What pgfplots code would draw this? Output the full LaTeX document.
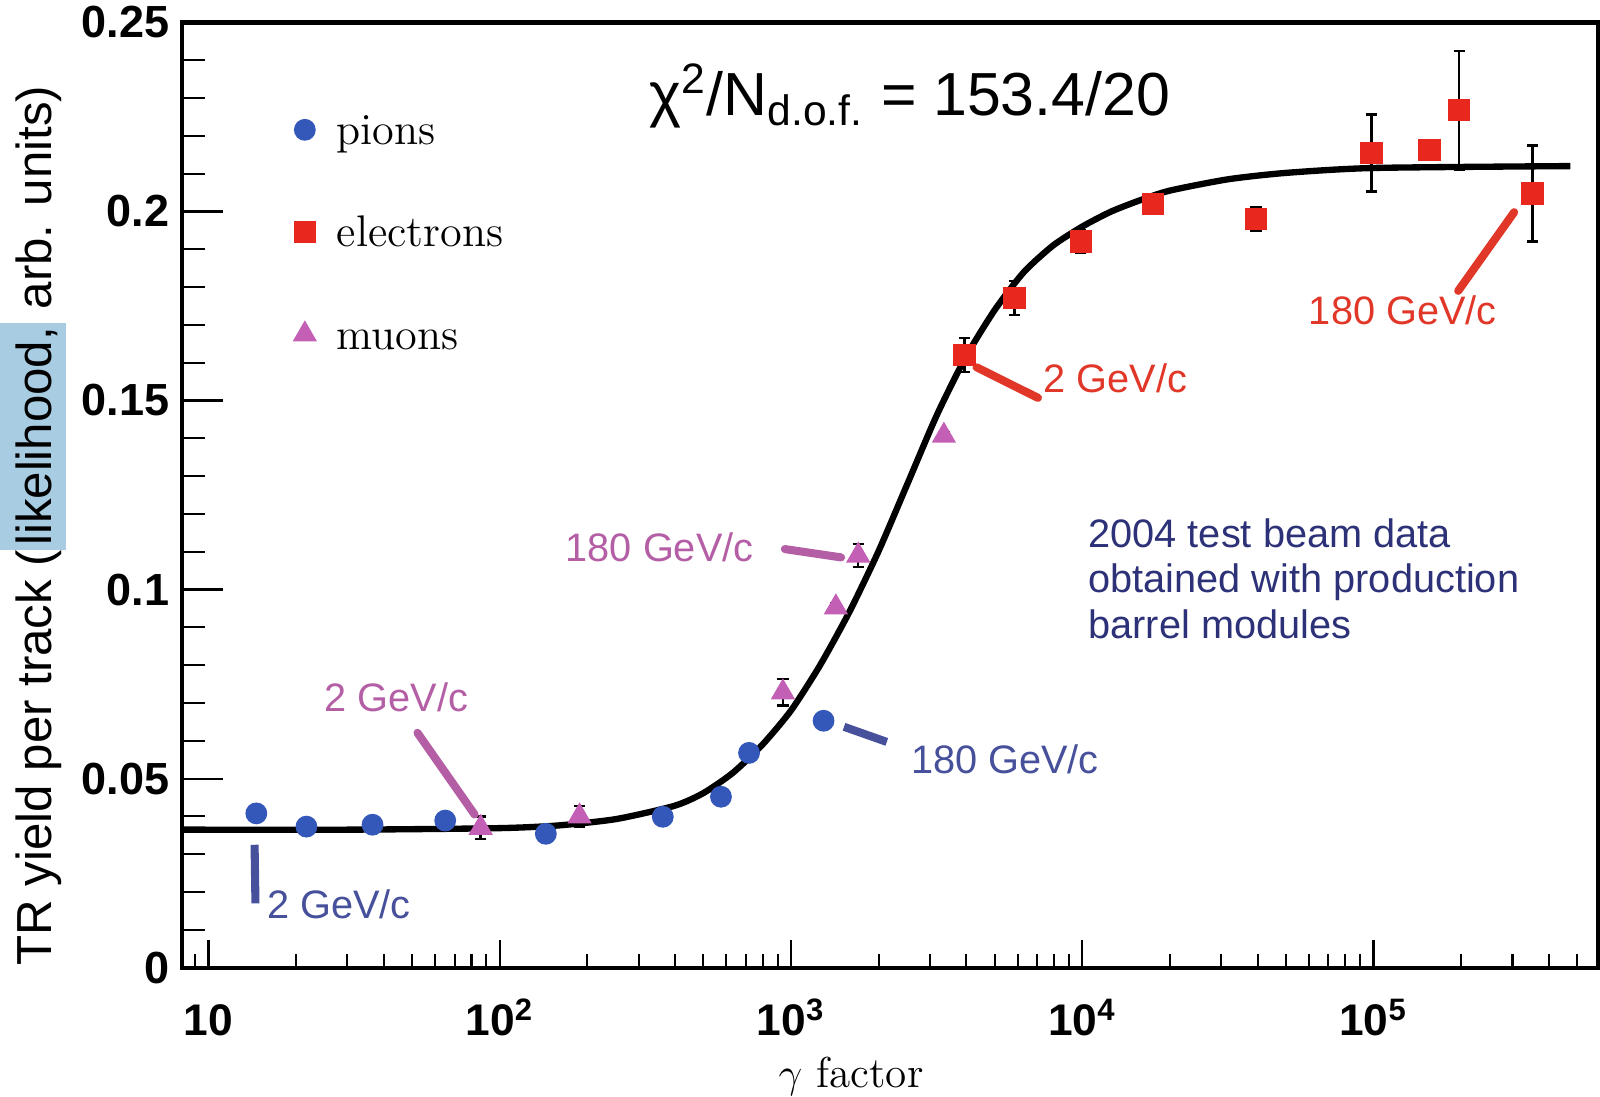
\documentclass[border=0pt]{standalone}
\usepackage{pgfplots}
\pgfplotsset{compat=1.18}
\usepackage{pgfplotstable}
\usepackage{fontspec}
\newfontfamily\arial{Liberation Sans}
\definecolor{pionblue}{RGB}{52,88,185}
\definecolor{elred}{RGB}{232,40,30}
\definecolor{muonmag}{RGB}{195,95,180}
\definecolor{labblue}{RGB}{70,80,155}
\definecolor{labmag}{RGB}{180,95,165}
\definecolor{labred}{RGB}{225,55,40}
\definecolor{textnavy}{RGB}{45,50,120}
\definecolor{hl}{RGB}{168,204,226}

\pgfplotstableread{
x y ey
14.6 0.0408 0.0008
21.7 0.0373 0.0008
36.6 0.0378 0.0008
65 0.0389 0.0008
144 0.0354 0.0008
363 0.0399 0.0008
575 0.0452 0.0008
718 0.0568 0.0008
1294 0.0653 0.0008
}\pions

\pgfplotstableread{
x y ey
3936 0.1620 0.0045
5850 0.1771 0.0045
9890 0.1920 0.0030
17500 0.2020 0.0020
39500 0.1980 0.0030
98400 0.2155 0.0102
156000 0.2163 0.0005
197000 0.2268 0.0157
351000 0.2047 0.0127
}\electrons

\pgfplotstableread{
x y ey
86 0.0370 0.0030
188 0.0400 0.0028
938 0.0728 0.0035
1426 0.0953 0.0010
1702 0.1090 0.0030
3350 0.1407 0.0010
}\muons

\pgfplotstableread{
x y
8.09 0.0365
31.6 0.0365
100 0.0369
158.5 0.0376
251.2 0.0393
398.1 0.0428
501.2 0.0462
631 0.0515
794.3 0.0588
1000 0.0680
1259 0.0800
1585 0.0940
1995 0.1100
2512 0.1280
3162 0.1460
3981 0.1615
5012 0.1740
6310 0.1840
7943 0.1910
10000 0.1960
12589 0.2000
15849 0.2030
19953 0.2055
31623 0.2085
50119 0.2102
100000 0.2115
474000 0.2120
}\fit

\begin{document}
\begin{tikzpicture}
\begin{axis}[
  scale only axis, width=14.16cm, height=9.45cm,
  xmode=log, log basis x=10,
  xmin=8.09, xmax=5.9e5, ymin=0, ymax=0.25,
  clip=false,
  axis line style={line width=1.2pt},
  tick style={line width=0.6pt, black},
  tick pos=left, tick align=inside,
  xtick style={/pgfplots/major tick length=2.8mm, /pgfplots/minor tick length=1.4mm},
  ytick style={/pgfplots/major tick length=4.2mm, /pgfplots/minor tick length=2.3mm},
  xtick={10,100,1000,10000,100000},
  xticklabels={\textbf{10},\textbf{10\textsuperscript{2}},\textbf{10\textsuperscript{3}},\textbf{10\textsuperscript{4}},\textbf{10\textsuperscript{5}}},
  minor xtick={9,20,30,40,50,60,70,80,90,200,300,400,500,600,700,800,900,2000,3000,4000,5000,6000,7000,8000,9000,20000,30000,40000,50000,60000,70000,80000,90000,200000,300000,400000,500000},
  ytick={0,0.05,0.1,0.15,0.2,0.25},
  yticklabels={\textbf{0},\textbf{0.05},\textbf{0.1},\textbf{0.15},\textbf{0.2},\textbf{0.25}},
  minor y tick num=4,
  xticklabel style={font=\arial\fontsize{12.6}{14}\selectfont, text height=9pt, text depth=0pt, yshift=-2.4mm},
  yticklabel style={font=\arial\fontsize{12.8}{14}\selectfont},
  legend style={draw=none, fill=none, at={(rel axis cs:0.0713,0.923)}, anchor=north west,
    font=\fontsize{12.6}{14}\selectfont, row sep=4.85mm,
    /tikz/every odd column/.append style={column sep=1.4mm}},
  legend cell align=left,
  error bars/error bar style={line width=0.7pt, black},
  error bars/error mark options={line width=0.7pt, black, mark size=1.6pt, rotate=90},
]
\coordinate (SW) at (rel axis cs:0,0);
\coordinate (NE) at (rel axis cs:1,1);

\addplot[black, line width=1.8pt, smooth, tension=0.4, forget plot] table[x=x,y=y] {\fit};

\addplot[only marks, mark=*, mark size=2.9pt, mark options={fill=pionblue, draw=pionblue},
  error bars/.cd, y dir=both, y explicit] table[x=x,y=y,y error=ey] {\pions};
\addlegendentry{\strut pions}
\addplot[only marks, mark=square*, mark size=3.0pt, mark options={fill=elred, draw=elred},
  error bars/.cd, y dir=both, y explicit] table[x=x,y=y,y error=ey] {\electrons};
\addlegendentry{\strut electrons}
\addplot[only marks, mark=triangle*, mark size=3.6pt, mark options={fill=muonmag, draw=muonmag},
  error bars/.cd, y dir=both, y explicit] table[x=x,y=y,y error=ey] {\muons};
\addlegendentry{\strut muons}

% annotation lines
\draw[labblue, line width=2.3pt] (axis cs:14.4,0.0325) -- (axis cs:14.5,0.0170);
\draw[labmag, line width=2.3pt, line cap=round] (axis cs:52.2,0.0621) -- (axis cs:82,0.0405);
\draw[labmag, line width=2.3pt, line cap=round] (axis cs:953,0.1107) -- (axis cs:1486,0.1085);
\draw[labblue, line width=2.3pt] (axis cs:1521,0.0637) -- (axis cs:2133,0.0597);
\draw[labred, line width=2.3pt, line cap=round] (axis cs:4335,0.1588) -- (axis cs:7047,0.1507);
\draw[labred, line width=2.3pt, line cap=round] (axis cs:195400,0.179) -- (axis cs:304000,0.1998);

% annotation texts
\begin{scope}[every node/.style={inner sep=0pt, font=\arial\fontsize{11.3}{13}\selectfont}]
\node[anchor=base west, labblue] at (axis cs:15.83,0.01296) {2 GeV/c};
\node[anchor=base west, labmag] at (axis cs:24.9,0.06777) {2 GeV/c};
\node[anchor=base east, labmag] at (axis cs:747.9,0.10746) {180 GeV/c};
\node[anchor=base west, labblue] at (axis cs:2569,0.0513) {180 GeV/c};
\node[anchor=base west, labred] at (axis cs:7331,0.152) {2 GeV/c};
\node[anchor=base west, labred] at (axis cs:59700,0.1701) {180 GeV/c};
\node[anchor=base west, textnavy] at (axis cs:10455,0.11124) {2004 test beam data};
\node[anchor=base west, textnavy] at (axis cs:10455,0.09909) {obtained with production};
\node[anchor=base west, textnavy] at (axis cs:10455,0.08694) {barrel modules};
\end{scope}

\node[anchor=base, inner sep=0pt, font=\arial\fontsize{17.3}{20}\selectfont] at (axis cs:2559,0.22545)
  {χ\textsuperscript{2}/N\textsubscript{d.o.f.} = 153.4/20};

% axis labels
\node[rotate=90, anchor=base, inner sep=0pt, font=\arial\fontsize{14}{16}\selectfont] at (rel axis cs:-0.0922,0.4676)
  {TR yield per track (\setlength{\fboxsep}{0pt}\colorbox{hl}{\rule[-1.5mm]{0pt}{6.6mm}\hspace*{0.4mm}likelihood,\hspace*{0.4mm}} arb. units)};
\node[anchor=base, inner sep=0pt, font=\fontsize{12.3}{14}\selectfont] at (rel axis cs:0.4727,-0.1264) {$\gamma$ factor};
\end{axis}
\pgfresetboundingbox
\path[use as bounding box] ([xshift=-1.816cm,yshift=-1.29cm]SW) rectangle ([xshift=0.02cm,yshift=0.224cm]NE);
\end{tikzpicture}
\end{document}
